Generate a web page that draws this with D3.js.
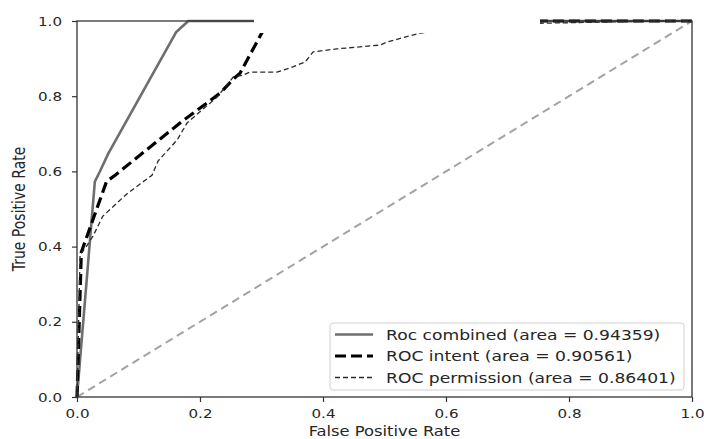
<html>

<head>
    <script src="https://d3js.org/d3.v7.min.js"></script>
    <style>
        body { margin: 0; background: #fff; }
        text { font-family: "DejaVu Sans", sans-serif; fill: #262626; }
    </style>
</head>

<body>
    <svg id="svg" width="704" height="439"></svg>

    <script>
        // DATA
        const combinedFpr = [0, 0.029, 0.037, 0.051, 0.161, 0.181, 1]
        const combinedTpr = [0, 0.573, 0.599, 0.648, 0.970, 1.0, 1]

        const intentFpr = [0, 0.007, 0.048, 0.062, 0.170, 0.2325, 0.254, 0.265, 0.311, 1]
        const intentTpr = [0, 0.385, 0.573, 0.590, 0.732, 0.808, 0.845, 0.861, 1.0, 1]

        const permFpr = [0, 0.005, 0.015, 0.026, 0.042, 0.081, 0.102, 0.122, 0.132, 0.163, 0.179,
            0.228, 0.254, 0.270, 0.281, 0.325, 0.346, 0.371, 0.384, 0.423, 0.493, 0.504, 0.558,
            0.650, 0.752, 0.950, 1]
        const permTpr = [0, 0.378, 0.400, 0.428, 0.481, 0.540, 0.566, 0.590, 0.628, 0.684, 0.729,
            0.798, 0.851, 0.856, 0.864, 0.864, 0.875, 0.891, 0.918, 0.926, 0.936, 0.944, 0.968,
            0.985, 0.994, 1.0, 1]

        const chanceLine = [0, 1]
        const tickValues = [0, 0.2, 0.4, 0.6, 0.8, 1.0]
        const legendLabels = [
            "Roc combined (area = 0.94359)",
            "ROC intent (area = 0.90561)",
            "ROC permission (area = 0.86401)"
        ]

        // LAYOUT
        const plotLeft = 77, plotRight = 692, plotTop = 21, plotBottom = 397
        const sx = 1.2 // the picture is stretched sideways, text too

        const x = d3.scaleLinear().domain([0, 1]).range([plotLeft, plotRight])
        const y = d3.scaleLinear().domain([0, 1]).range([plotBottom, plotTop])

        const svg = d3.select("#svg")

        const zip = (xs, ys) => xs.map((v, i) => [v, ys[i]])
        const line = d3.line().x(d => x(d[0])).y(d => y(d[1]))

        const series = [
            { pts: zip(combinedFpr, combinedTpr), color: "#6e6e6e", width: 2.6, dash: null },
            { pts: zip(intentFpr, intentTpr), color: "#000", width: 3.2, dash: "11,5" },
            { pts: zip(permFpr, permTpr), color: "#2b2b2b", width: 1.3, dash: "5,3" }
        ]

        // chance diagonal
        svg.append("path")
            .attr("d", line(zip(chanceLine, chanceLine)))
            .attr("fill", "none")
            .attr("stroke", "#a3a3a3")
            .attr("stroke-width", 2)
            .attr("stroke-dasharray", "8,5")

        svg.append("g")
            .selectAll("path")
            .data(series)
            .join("path")
            .attr("d", d => line(d.pts))
            .attr("fill", "none")
            .attr("stroke", d => d.color)
            .attr("stroke-width", d => d.width)
            .attr("stroke-dasharray", d => d.dash)
            .attr("stroke-linejoin", "round")

        // AXES
        const fmt = d3.format(".1f")
        const xAxis = svg.append("g")
            .attr("transform", `translate(0,${plotBottom})`)
            .call(d3.axisBottom(x).tickValues(tickValues).tickFormat(fmt).tickSize(5).tickPadding(7))
        const yAxis = svg.append("g")
            .attr("transform", `translate(${plotLeft},0)`)
            .call(d3.axisLeft(y).tickValues(tickValues).tickFormat(fmt).tickSize(5).tickPadding(10))

        for (const ax of [xAxis, yAxis]) {
            ax.select(".domain").remove()
            ax.selectAll("line").attr("stroke", "#333").attr("stroke-width", 1.2)
            ax.selectAll("text")
                .style("font-family", "DejaVu Sans")
                .attr("font-size", 12.6)
                .attr("fill", "#262626")
        }
        xAxis.selectAll("text").attr("transform", `scale(${sx},1)`)
        yAxis.selectAll("text").attr("x", -15 / sx).attr("transform", `scale(${sx},1)`)

        // frame
        svg.append("rect")
            .attr("x", plotLeft).attr("y", plotTop)
            .attr("width", plotRight - plotLeft).attr("height", plotBottom - plotTop)
            .attr("fill", "none")
            .attr("stroke", "#333")
            .attr("stroke-width", 1.3)

        // blank patch that hides the top of the picture
        svg.append("rect")
            .attr("x", 254).attr("y", 0)
            .attr("width", 286).attr("height", 33)
            .attr("fill", "#fff")

        // axis labels
        svg.append("text")
            .attr("transform", `translate(${(plotLeft + plotRight) / 2},436) scale(${sx},1)`)
            .attr("text-anchor", "middle")
            .attr("font-size", 13.6)
            .text("False Positive Rate")
        svg.append("text")
            .attr("transform", `translate(25,${(plotTop + plotBottom) / 2}) scale(${sx},1) rotate(-90)`)
            .attr("text-anchor", "middle")
            .attr("font-size", 14)
            .text("True Positive Rate")

        // LEGEND
        const lg = svg.append("g")
        lg.append("rect")
            .attr("x", 330).attr("y", 323)
            .attr("width", 354).attr("height", 67)
            .attr("rx", 3)
            .attr("fill", "#fff").attr("fill-opacity", 0.8)
            .attr("stroke", "#d0d0d0")
        const rows = lg.selectAll("g.row")
            .data(series)
            .join("g")
            .attr("class", "row")
            .attr("transform", (d, i) => `translate(0,${334.5 + i * 21.5})`)
        rows.append("line")
            .attr("x1", 335).attr("x2", 373)
            .attr("stroke", d => d.color)
            .attr("stroke-width", d => d.width)
            .attr("stroke-dasharray", d => d.dash)
        rows.append("text")
            .attr("transform", `translate(386,5.2) scale(${sx},1)`)
            .attr("font-size", 14.3)
            .text((d, i) => legendLabels[i])
    </script>
</body>

</html>
